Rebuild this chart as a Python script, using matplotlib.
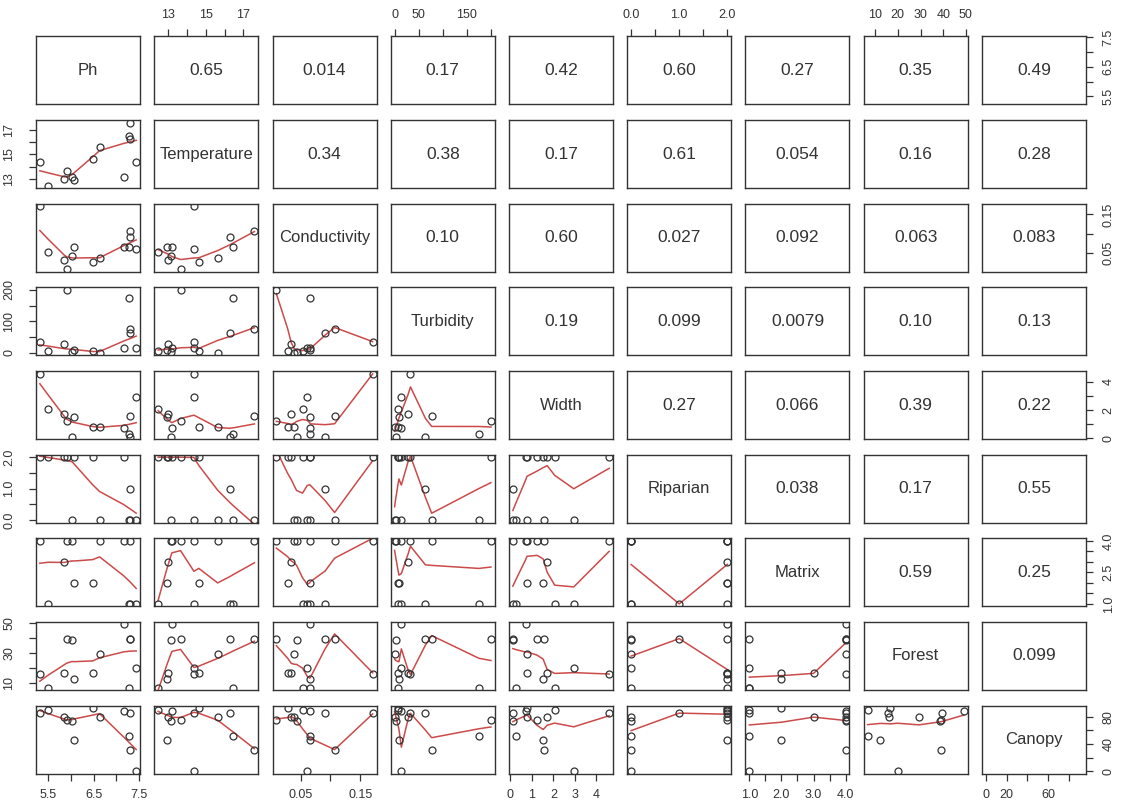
"""
Matriks scatterplot (gaya pairs() di R) untuk 9 variabel habitat:
panel bawah = titik + garis lowess, panel atas = nilai |r|,
diagonal = nama variabel.
"""

import numpy as np
import matplotlib
matplotlib.use("Agg")
import matplotlib.pyplot as plt

plt.rcParams["font.family"] = ["Liberation Sans", "DejaVu Sans"]

# ---- data (13 lokasi) ----
names = ["Ph", "Temperature", "Conductivity", "Turbidity", "Width",
         "Riparian", "Matrix", "Forest", "Canopy"]

ph = [5.31, 5.50, 5.85, 5.90, 6.02, 6.07, 6.48, 6.63, 7.16, 7.31, 7.29, 7.30, 7.44]
temperature = [14.37, 12.47, 12.97, 13.66, 13.13, 12.95, 14.63, 15.63, 13.20, 17.58, 16.47, 16.26, 14.37]
conductivity = [0.171, 0.053, 0.034, 0.009, 0.043, 0.065, 0.028, 0.039, 0.066, 0.107, 0.066, 0.091, 0.061]
turbidity = [33, 7, 28, 200, 2, 9, 7, 0, 14, 77, 175, 64, 14]
width = [4.60, 2.06, 1.71, 1.24, 0.11, 1.52, 0.77, 0.77, 0.70, 1.55, 0.26, 0.11, 2.95]
riparian = [2, 2, 2, 2, 0, 2, 2, 0, 2, 0, 0, 1, 0]
matrix = [4, 1, 3, 4, 4, 2, 2, 4, 4, 4, 1, 1, 1]
forest = [15.5, 6.7, 16.2, 39.2, 38.6, 12.2, 16.6, 29.3, 49.1, 39.0, 6.7, 39.6, 19.9]
canopy = [85.3, 89.2, 79.4, 74.5, 73.6, 45.3, 92.6, 79.4, 88.2, 31.7, 51.7, 85.3, 0.0]

columns = [ph, temperature, conductivity, turbidity, width,
           riparian, matrix, forest, canopy]

# nilai korelasi yang tertulis di panel atas (per baris)
cor_labels = [
    ["0.65", "0.014", "0.17", "0.42", "0.60", "0.27", "0.35", "0.49"],
    ["0.34", "0.38", "0.17", "0.61", "0.054", "0.16", "0.28"],
    ["0.10", "0.60", "0.027", "0.092", "0.063", "0.083"],
    ["0.19", "0.099", "0.0079", "0.10", "0.13"],
    ["0.27", "0.066", "0.39", "0.22"],
    ["0.038", "0.17", "0.55"],
    ["0.59", "0.25"],
    ["0.099"],
]

# tick tiap variabel + label di sumbu horizontal / vertikal
ticks = [
    [5.5, 6.0, 6.5, 7.0, 7.5],
    [13, 14, 15, 16, 17],
    [0.05, 0.10, 0.15],
    [0, 50, 100, 150, 200],
    [0, 1, 2, 3, 4],
    [0.0, 0.5, 1.0, 1.5, 2.0],
    [1.0, 1.5, 2.0, 2.5, 3.0, 3.5, 4.0],
    [10, 20, 30, 40, 50],
    [0, 20, 40, 60, 80],
]
hlabels = [
    ["5.5", "", "6.5", "", "7.5"],
    ["13", "", "15", "", "17"],
    ["0.05", "", "0.15"],
    ["0", "50", "", "150", ""],
    ["0", "1", "2", "3", "4"],
    ["0.0", "", "1.0", "", "2.0"],
    ["1.0", "", "2.0", "", "3.0", "", "4.0"],
    ["10", "20", "30", "40", "50"],
    ["0", "20", "", "60", ""],
]
vlabels = [
    ["5.5", "", "6.5", "", "7.5"],
    ["13", "", "15", "", "17"],
    ["0.05", "", "0.15"],
    ["0", "", "100", "", "200"],
    ["0", "", "2", "", "4"],
    ["0.0", "", "1.0", "", "2.0"],
    ["1.0", "", "", "2.5", "", "", "4.0"],
    ["10", "", "30", "", "50"],
    ["0", "", "40", "", "80"],
]

INK = "#333333"
SMOOTH = "#cc4a4a"


def _lowest(x, y, xs, nleft, nright, rw, userw):
    # sama dengan lowest() di clowess R
    n = len(x)
    rng = x[-1] - x[0]
    h = max(xs - x[nleft], x[nright] - xs)
    h9, h1 = 0.999 * h, 0.001 * h
    w = np.zeros(n)
    a = 0.0
    j = nleft
    while j < n:
        r = abs(x[j] - xs)
        if r <= h9:
            w[j] = 1.0 if r <= h1 else (1 - (r / h) ** 3) ** 3
            if userw:
                w[j] *= rw[j]
            a += w[j]
        elif x[j] > xs:
            break
        j += 1
    nrt = j - 1
    if a <= 0:
        return 0.0, False
    sl = slice(nleft, nrt + 1)
    w[sl] /= a
    if h > 0:
        a = np.sum(w[sl] * x[sl])
        b = xs - a
        c = np.sum(w[sl] * (x[sl] - a) ** 2)
        if np.sqrt(c) > 0.001 * rng:
            b /= c
            w[sl] *= b * (x[sl] - a) + 1
    return np.sum(w[sl] * y[sl]), True


def lowess(x, y, f=2 / 3, iters=3):
    order = np.argsort(x, kind="stable")
    x = np.asarray(x, float)[order]
    y = np.asarray(y, float)[order]
    n = len(x)
    delta = 0.01 * (x[-1] - x[0])
    ns = max(2, min(n, int(f * n + 1e-7)))
    rw = np.ones(n)
    ys = np.zeros(n)
    for it in range(iters + 1):
        nleft, nright, last, i = 0, ns - 1, -1, 0
        while True:
            if nright < n - 1 and x[i] - x[nleft] > x[nright + 1] - x[i]:
                nleft += 1
                nright += 1
                continue
            val, ok = _lowest(x, y, x[i], nleft, nright, rw, it > 0)
            ys[i] = val if ok else y[i]
            if last < i - 1:
                denom = x[i] - x[last]
                for j in range(last + 1, i):
                    alpha = (x[j] - x[last]) / denom
                    ys[j] = alpha * ys[i] + (1 - alpha) * ys[last]
            last = i
            cut = x[last] + delta
            i = last + 1
            while i < n:
                if x[i] > cut:
                    break
                if x[i] == x[last]:
                    ys[i] = ys[last]
                    last = i
                i += 1
            i = max(last + 1, i - 1)
            if last >= n - 1:
                break
        res = y - ys
        if it == iters:
            break
        sc = np.sum(np.abs(res)) / n
        ar = np.sort(np.abs(res))
        m1 = n // 2
        cmad = 3 * (ar[m1] + ar[n - m1 - 1]) if n % 2 == 0 else 6 * ar[m1]
        if cmad < 1e-7 * sc:
            break
        r = np.abs(res)
        rw = np.where(r <= 0.001 * cmad, 1.0,
                      np.where(r <= 0.999 * cmad, (1 - (r / cmad) ** 2) ** 2, 0.0))
    return x, ys


def data_lim(v):
    lo, hi = min(v), max(v)
    pad = 0.04 * (hi - lo)
    return lo - pad, hi + pad


def main():
    fig = plt.figure(figsize=(11.22, 8.05), dpi=100)
    axes = fig.subplots(9, 9)
    fig.subplots_adjust(left=0.0321, right=0.9679, top=0.9548, bottom=0.0389,
                        wspace=0.137, hspace=0.229)
    nv = len(names)
    lims = [data_lim(c) for c in columns]

    for i in range(nv):
        for j in range(nv):
            ax = axes[i, j]
            ax.set_xlim(lims[j])
            ax.set_ylim(lims[i])
            ax.set_xticks([])
            ax.set_yticks([])
            for s in ax.spines.values():
                s.set_linewidth(1.0)
                s.set_color(INK)

            if i == j:
                ax.text(0.5, 0.5, names[i], transform=ax.transAxes, ha="center",
                        va="center", fontsize=12, color=INK)
            elif i < j:
                ax.text(0.5, 0.5, cor_labels[i][j - i - 1], transform=ax.transAxes,
                        ha="center", va="center", fontsize=12.5, color=INK)
            else:
                ax.plot(columns[j], columns[i], "o", mfc="none", mec=INK, ms=5,
                        mew=0.9, zorder=3)
                sx, sy = lowess(columns[j], columns[i])
                ax.plot(sx, sy, color=SMOOTH, lw=1.1, zorder=2)

            tick_kw = dict(direction="out", length=5, width=0.9, labelsize=9,
                           color=INK, labelcolor=INK)
            if i == 0 and j % 2 == 1:
                ax.set_xticks(ticks[j], hlabels[j])
                ax.tick_params(axis="x", top=True, bottom=False, labeltop=True,
                               labelbottom=False, pad=6, **tick_kw)
            if i == nv - 1 and j % 2 == 0:
                ax.set_xticks(ticks[j], hlabels[j])
                ax.tick_params(axis="x", pad=6, **tick_kw)
            if j == 0 and i % 2 == 1:
                ax.set_yticks(ticks[i], vlabels[i])
                ax.tick_params(axis="y", pad=10, labelrotation=90, **tick_kw)
                for lbl in ax.get_yticklabels():
                    lbl.set_va("center")
            if j == nv - 1 and i % 2 == 0:
                ax.set_yticks(ticks[i], vlabels[i])
                ax.tick_params(axis="y", left=False, right=True, labelleft=False,
                               labelright=True, pad=7, labelrotation=90, **tick_kw)
                for lbl in ax.get_yticklabels():
                    lbl.set_va("center")

    fig.savefig("out.png", dpi=100)
    plt.close(fig)


if __name__ == "__main__":
    main()
